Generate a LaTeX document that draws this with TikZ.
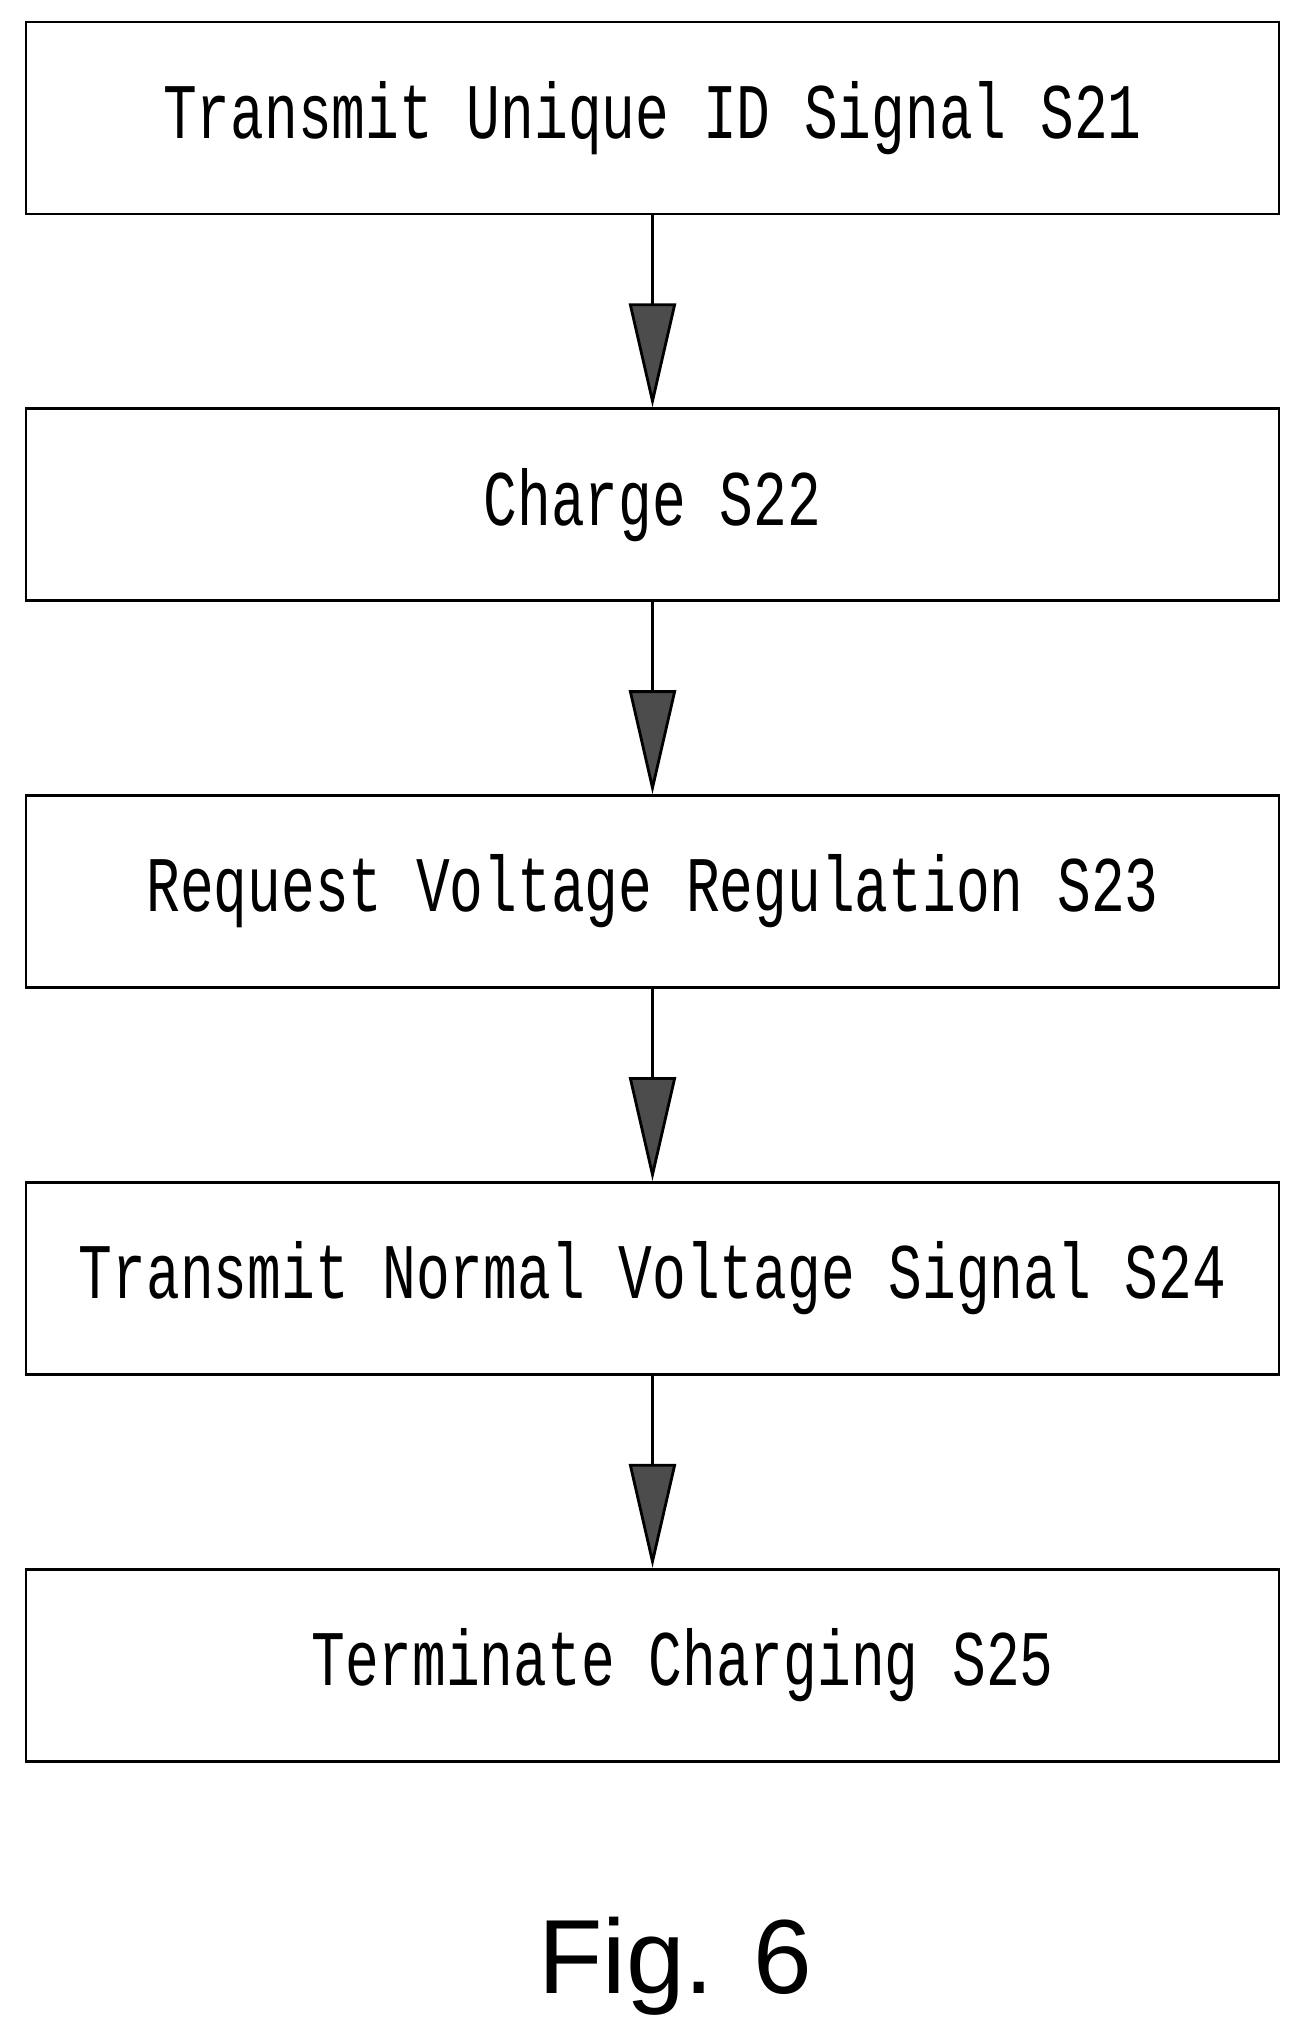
\documentclass[tikz,border=0pt]{standalone}
\usepackage{fontspec}
\setmonofont{Liberation Mono}
\setsansfont{Liberation Sans}
\usetikzlibrary{positioning,arrows.meta}
\tikzset{stepbox/.style={draw, line width=0.8pt, minimum width=12.53cm, minimum height=1.92cm, inner sep=0pt}}
\tikzset{steptext/.style={font=\ttfamily\fontsize{16}{18}\selectfont, yscale=1.4}}
\tikzset{arr/.style={draw, line width=0.8pt, -{Triangle[length=10.4mm,width=4.7mm,fill=black!70]}}}
\begin{document}
\begin{tikzpicture}
    \useasboundingbox (0,0) rectangle (12.98,-20.31);
    \node[stepbox] (S21) at (6.525,-1.18) {};
    \node[stepbox, below=1.92 of S21] (S22) {};
    \node[stepbox, below=1.92 of S22] (S23) {};
    \node[stepbox, below=1.92 of S23] (S24) {};
    \node[stepbox, below=1.92 of S24] (S25) {};
%
    \node[steptext] at (S21) {Transmit Unique ID Signal S21};
    \node[steptext] at (S22) {Charge S22};
    \node[steptext] at (S23) {Request Voltage Regulation S23};
    \node[steptext] at (S24) {Transmit Normal Voltage Signal S24};
    \node[steptext] at ([xshift=0.3cm]S25.center) {Terminate Charging S25};
%
    \draw[arr] (S21) -- (S22);
    \draw[arr] (S22) -- (S23);
    \draw[arr] (S23) -- (S24);
    \draw[arr] (S24) -- (S25);
%
    \node[font=\sffamily\fontsize{30}{34}\selectfont] (fig) at (6.75,-19.66) {Fig. 6};
\end{tikzpicture}
\end{document}
